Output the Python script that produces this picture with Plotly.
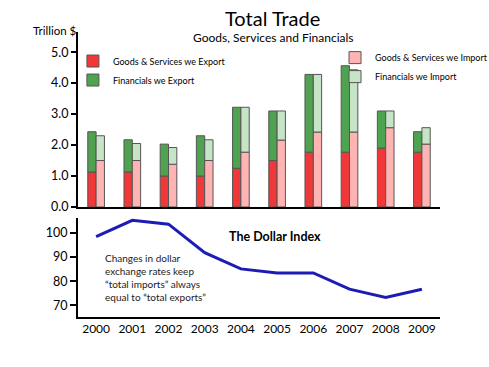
import plotly.graph_objects as go

years = ["2000", "2001", "2002", "2003", "2004", "2005", "2006", "2007", "2008", "2009"]
export_goods = [1.13, 1.13, 1.0, 1.0, 1.25, 1.5, 1.77, 1.77, 1.9, 1.77]
export_total = [2.43, 2.17, 2.03, 2.3, 3.22, 3.1, 4.28, 4.56, 3.1, 2.43]
import_goods = [1.5, 1.5, 1.38, 1.5, 1.77, 2.16, 2.42, 2.42, 2.56, 2.03]
import_total = [2.3, 2.05, 1.92, 2.17, 3.22, 3.1, 4.28, 4.43, 3.1, 2.56]
dollar_index = [98.4, 105.2, 103.6, 91.8, 85.1, 83.4, 83.4, 76.7, 73.3, 76.7]

export_fin = [t - g for t, g in zip(export_total, export_goods)]
import_fin = [t - g for t, g in zip(import_total, import_goods)]

FONT = "Lato"
outline = dict(color="#555555", width=1)

fig = go.Figure()
fig.add_trace(go.Bar(x=years, y=export_goods, name="Goods & Services we Export",
                     offsetgroup="ex", marker=dict(color="#F03838", line=outline),
                     legend="legend", xaxis="x", yaxis="y"))
fig.add_trace(go.Bar(x=years, y=export_fin, base=export_goods, name="Financials we Export",
                     offsetgroup="ex", marker=dict(color="#4FA24F", line=outline),
                     legend="legend", xaxis="x", yaxis="y"))
fig.add_trace(go.Bar(x=years, y=import_goods, name="Goods & Services we Import",
                     offsetgroup="im", marker=dict(color="#FFB4B4", line=outline),
                     legend="legend2", xaxis="x", yaxis="y"))
fig.add_trace(go.Bar(x=years, y=import_fin, base=import_goods, name="Financials we Import",
                     offsetgroup="im", marker=dict(color="#C6E4C6", line=outline),
                     legend="legend2", xaxis="x", yaxis="y"))
fig.add_trace(go.Scatter(x=years, y=dollar_index, mode="lines", showlegend=False,
                         line=dict(color="#1C1CB4", width=3), xaxis="x2", yaxis="y2"))

line_common = dict(showline=True, linecolor="black", linewidth=2, showgrid=False, zeroline=False)
tickfont = dict(family=FONT, size=12.5, color="black")

def ann(text, x, y, size, **kw):
    d = dict(text=text, x=x, y=y, xref="paper", yref="paper", showarrow=False,
             xanchor="center", yanchor="middle",
             font=dict(family=FONT, size=size, color=kw.pop("color", "black")))
    d.update(kw)
    return d

fig.update_layout(
    width=489, height=367,
    margin=dict(l=78, r=49, t=32, b=50, autoexpand=False),
    paper_bgcolor="white", plot_bgcolor="white",
    barmode="group", bargap=0.54, bargroupgap=0,
    font=dict(family=FONT, color="black"),
    xaxis=dict(domain=[0, 1], anchor="y", type="category", range=[-0.5, 9.5],
               showticklabels=False, ticks="", **line_common),
    yaxis=dict(domain=[0.386, 1], anchor="x", range=[0, 5.65], tickvals=[0, 1, 2, 3, 4, 5],
               tickformat=".1f", ticks="outside", ticklen=5, tickwidth=1.5, tickcolor="black",
               tickfont=tickfont, **line_common),
    xaxis2=dict(domain=[0, 1], anchor="y2", type="category", range=[-0.5, 9.5],
                ticks="", tickangle=0, tickfont=dict(family=FONT, size=12, color="black"),
                **line_common),
    yaxis2=dict(domain=[0, 0.347], anchor="x2", range=[65.2, 106.1], tickvals=[70, 80, 90, 100],
                ticks="outside", ticklen=6, tickwidth=1.5, tickcolor="black",
                tickfont=tickfont, **line_common),
    legend=dict(x=-0.014, y=0.949, xanchor="left", yanchor="top", bgcolor="rgba(0,0,0,0)",
                font=dict(family=FONT, size=9, color="black"), tracegroupgap=0,
                itemwidth=30),
    legend2=dict(x=0.71, y=0.961, xanchor="left", yanchor="top", bgcolor="rgba(0,0,0,0)",
                 font=dict(family=FONT, size=9, color="black"), tracegroupgap=0,
                 itemwidth=30),
    annotations=[
        ann("Total Trade", 0.536, 1.048, 20),
        ann("Goods, Services and Financials", 0.539, 0.980, 12),
        ann("Trillion $", -0.064, 1.007, 11.5),
        ann("<b>The Dollar Index</b>", 0.544, 0.281, 12.5),
        ann("Changes in dollar<br>exchange rates keep<br>\u201ctotal imports\u201d always<br>equal to \u201ctotal exports\u201d",
            0.069, 0.235, 10, color="#222222", xanchor="left", yanchor="top", align="left"),
    ],
)

fig.write_html("out.html", config={"displayModeBar": False},
               post_script="document.body.style.margin='0';")
